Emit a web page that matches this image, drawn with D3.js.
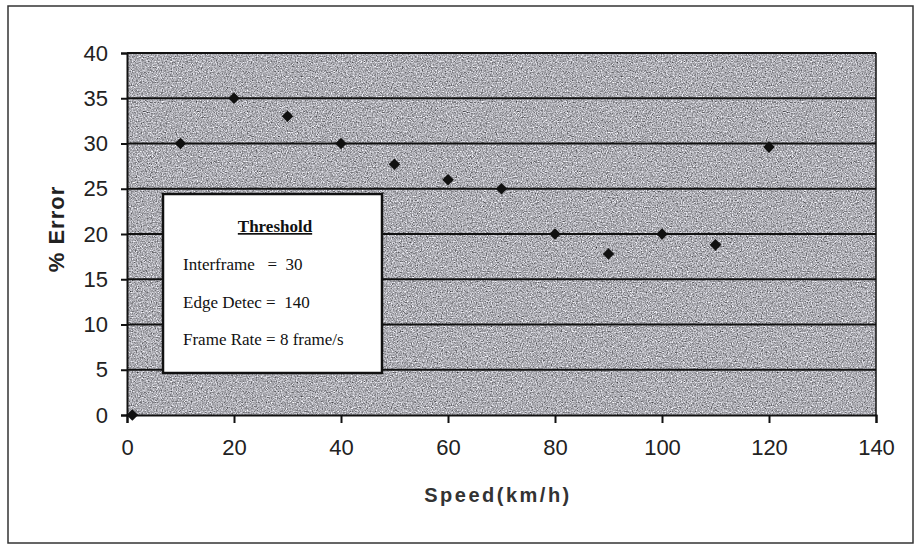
<!DOCTYPE html>
<html lang="en">
<head>
<meta charset="UTF-8">
<title>% Error vs Speed</title>
<script src="https://d3js.org/d3.v7.min.js"></script>
<style>
  body { margin: 0; background: #fff; }
  .tick text { font-family: "Liberation Sans", Arial, sans-serif; font-size: 22px; fill: #222; }
  .legend text { font-family: "Liberation Serif", "Times New Roman", serif; font-size: 17px; fill: #111; }
</style>
</head>
<body>
<svg width="919" height="547"></svg>
<script>
  // values
  var speed = [1, 10, 20, 30, 40, 50, 60, 70, 80, 90, 100, 110, 120];
  var error = [0, 30, 35, 33, 30, 27.7, 26, 25, 20, 17.8, 20, 18.8, 29.6];
  var xTicks = [0, 20, 40, 60, 80, 100, 120, 140];
  var yTicks = [0, 5, 10, 15, 20, 25, 30, 35, 40];
  var legendLines = ["Interframe   =  30", "Edge Detec =  140", "Frame Rate = 8 frame/s"];

  var svg = d3.select("svg");
  var plotL = 127, plotR = 876, plotT = 53, plotB = 415;

  var x = d3.scaleLinear().domain([0, 140]).range([plotL, plotR]);
  var y = d3.scaleLinear().domain([0, 40]).range([plotB, plotT]);

  // grainy gray fill like the photocopy
  var defs = svg.append("defs");
  var f = defs.append("filter").attr("id", "grain")
      .attr("x", 0).attr("y", 0).attr("width", "100%").attr("height", "100%")
      .attr("color-interpolation-filters", "sRGB");
  f.append("feTurbulence").attr("type", "fractalNoise")
      .attr("baseFrequency", 0.8).attr("numOctaves", 2).attr("seed", 4);
  f.append("feColorMatrix").attr("type", "matrix")
      .attr("values", "0.55 0.55 0.55 0 -0.15  0.55 0.55 0.55 0 -0.15  0.56 0.56 0.56 0 -0.14  0 0 0 0 1");

  // outer frame
  svg.append("rect").attr("x", 8).attr("y", 6).attr("width", 905).attr("height", 537)
      .attr("fill", "none").attr("stroke", "#333").attr("stroke-width", 1.5);

  svg.append("rect").attr("x", plotL).attr("y", plotT)
      .attr("width", plotR - plotL).attr("height", plotB - plotT)
      .attr("fill", "#999").attr("filter", "url(#grain)");

  // gridlines
  svg.append("g").selectAll("line").data(yTicks.slice(1)).join("line")
      .attr("x1", plotL).attr("x2", plotR)
      .attr("y1", d => y(d)).attr("y2", d => y(d))
      .attr("stroke", "#111").attr("stroke-width", 2);

  svg.append("line").attr("x1", plotR).attr("x2", plotR).attr("y1", plotT).attr("y2", plotB)
      .attr("stroke", "#111").attr("stroke-width", 1.5);

  var yAxis = svg.append("g").attr("transform", "translate(" + plotL + ",0)")
      .call(d3.axisLeft(y).tickValues(yTicks).tickSize(6).tickPadding(13));
  var xAxis = svg.append("g").attr("transform", "translate(0," + plotB + ")")
      .call(d3.axisBottom(x).tickValues(xTicks).tickSize(8).tickPadding(16));
  [xAxis, yAxis].forEach(function(a) {
    a.selectAll(".domain").attr("stroke", "#111").attr("stroke-width", 2);
    a.selectAll(".tick line").attr("stroke", "#111").attr("stroke-width", 2);
  });

  // legend box
  var lg = svg.append("g").attr("class", "legend");
  lg.append("rect").attr("x", 163).attr("y", 194).attr("width", 219).attr("height", 179)
      .attr("fill", "#fff").attr("stroke", "#111").attr("stroke-width", 2.5);
  lg.append("text").attr("x", 275).attr("y", 232).attr("text-anchor", "middle")
      .attr("font-weight", "bold").attr("text-decoration", "underline").text("Threshold");
  lg.selectAll("text.row").data(legendLines).join("text").attr("class", "row")
      .attr("x", 183).attr("y", (d, i) => 270 + i * 37.5)
      .style("white-space", "pre").text(d => d);

  // markers
  svg.append("g").selectAll("path").data(speed).join("path")
      .attr("transform", (d, i) => "translate(" + x(d) + "," + y(error[i]) + ")")
      .attr("d", d3.symbol(d3.symbolDiamond2, 85))
      .attr("fill", "#111");

  // axis titles
  svg.append("text").attr("transform", "translate(64,229) rotate(-90)")
      .attr("text-anchor", "middle")
      .style("font-family", "Liberation Sans, Arial, sans-serif").style("font-size", "22px")
      .style("font-weight", "bold").style("letter-spacing", "1px").attr("fill", "#222")
      .text("% Error");
  svg.append("text").attr("x", 498).attr("y", 502).attr("text-anchor", "middle")
      .style("font-family", "Liberation Sans, Arial, sans-serif").style("font-size", "20px")
      .style("font-weight", "bold").style("letter-spacing", "2.5px").attr("fill", "#333")
      .text("Speed(km/h)");
</script>
</body>
</html>
